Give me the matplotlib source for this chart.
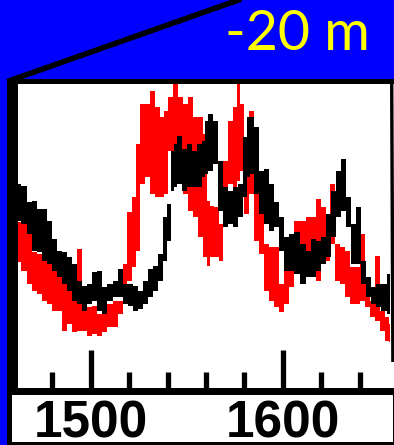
import matplotlib
matplotlib.use("Agg")
import matplotlib.pyplot as plt
import matplotlib.transforms as mtransforms
from matplotlib.patches import Rectangle, Polygon
from matplotlib.lines import Line2D
from matplotlib.ticker import MultipleLocator

# ---------------------------------------------------------------- data
# black record: year, upper and lower edge of the noisy trace
years_black = [1462.2, 1465.6, 1468.2, 1470.8, 1473.4, 1476.0, 1478.6, 1481.2,
               1483.8, 1486.4, 1489.0, 1491.7, 1494.3, 1496.9, 1499.5, 1502.1,
               1504.7, 1507.3, 1509.9, 1513.0, 1515.6, 1518.2, 1520.8, 1523.4,
               1526.0, 1528.6, 1531.2, 1533.8, 1536.4, 1539.0, 1540.8, 1542.5,
               1544.3, 1546.0, 1548.6, 1551.2, 1553.8, 1556.4, 1559.0, 1560.4,
               1562.1, 1564.7, 1567.3, 1569.9, 1572.6, 1575.2, 1577.8, 1580.4,
               1582.1, 1583.8, 1586.4, 1589.0, 1591.7, 1594.3, 1596.9, 1599.5,
               1602.1, 1604.7, 1607.3, 1610.9, 1613.5, 1616.1, 1618.7, 1621.3,
               1623.9, 1626.5, 1629.1, 1631.7, 1634.3, 1636.9, 1639.6, 1642.2,
               1644.8, 1647.4, 1650.0, 1652.6, 1655.8]
black_hi = [66.7, 66.1, 60.6, 60.9, 58.3, 58.3, 54.4, 48.3,
            44.4, 43.9, 42.2, 40.0, 34.4, 32.8, 33.3, 37.2,
            37.8, 32.2, 33.3, 34.4, 38.3, 33.3, 33.3, 32.8,
            31.1, 34.4, 38.3, 39.4, 43.3, 55.6, 60.0, 77.8,
            80.0, 82.8, 78.3, 80.0, 77.8, 80.0, 81.1, 87.8,
            90.0, 87.8, 74.4, 65.6, 64.4, 65.6, 66.7, 82.2,
            88.9, 88.9, 85.6, 71.1, 71.7, 66.7, 60.6, 55.6,
            48.9, 50.0, 50.6, 46.7, 44.4, 48.3, 47.8, 48.9,
            56.7, 64.4, 71.1, 75.0, 62.2, 53.3, 58.9, 41.1,
            35.6, 32.2, 33.3, 33.3, 36.7]
black_lo = [54.4, 53.3, 50.0, 44.4, 43.9, 41.1, 40.0, 37.8,
            35.6, 33.3, 31.1, 27.8, 26.7, 24.4, 26.7, 27.8,
            24.4, 23.3, 27.8, 28.9, 28.9, 26.7, 26.1, 24.4,
            25.0, 26.7, 28.9, 31.1, 34.4, 41.1, 47.8, 64.4,
            65.6, 66.7, 64.4, 65.6, 65.6, 65.6, 68.9, 70.0,
            71.1, 73.3, 57.8, 52.2, 53.3, 52.2, 55.6, 62.2,
            68.9, 70.0, 63.3, 56.7, 53.3, 51.1, 52.2, 44.4,
            37.8, 37.8, 36.7, 33.3, 35.6, 35.6, 37.8, 40.0,
            42.2, 48.9, 55.6, 57.8, 52.2, 40.0, 40.0, 33.3,
            28.9, 26.7, 25.6, 24.4, 23.3]

# red record: year, upper and lower edge of the noisy trace
years_red = [1462.2, 1465.6, 1468.2, 1470.8, 1473.4, 1476.0, 1478.6, 1481.2,
             1483.8, 1486.4, 1489.0, 1491.7, 1494.3, 1496.9, 1499.5, 1502.1,
             1504.7, 1507.3, 1509.9, 1513.0, 1515.6, 1518.2, 1519.9, 1522.6,
             1524.3, 1526.9, 1529.5, 1532.1, 1534.7, 1537.3, 1539.0, 1541.7,
             1544.3, 1546.9, 1549.5, 1552.1, 1554.7, 1557.3, 1559.9, 1561.6,
             1563.0, 1565.6, 1568.2, 1569.9, 1572.6, 1575.2, 1576.9, 1578.6,
             1581.2, 1583.8, 1586.4, 1589.0, 1591.7, 1594.3, 1596.9, 1599.5,
             1602.1, 1604.7, 1607.3, 1610.9, 1613.5, 1616.1, 1618.7, 1621.3,
             1623.9, 1625.7, 1628.3, 1630.9, 1633.5, 1636.1, 1638.7, 1641.3,
             1643.9, 1646.5, 1649.1, 1651.7, 1654.3, 1655.8]
red_hi = [53.9, 53.3, 50.0, 43.9, 43.3, 42.2, 40.0, 37.8,
          35.6, 34.4, 31.1, 27.8, 45.0, 26.7, 25.6, 26.1,
          23.3, 23.3, 26.7, 27.8, 27.8, 40.0, 57.2, 62.2,
          80.0, 93.3, 93.3, 97.8, 92.2, 88.9, 91.1, 95.6,
          100.0, 95.6, 93.3, 95.6, 88.9, 88.9, 83.3, 61.1,
          59.4, 58.9, 53.3, 74.4, 87.8, 92.2, 100.0, 93.3,
          72.2, 91.1, 85.6, 60.0, 46.7, 45.6, 45.6, 33.3,
          37.8, 40.0, 54.4, 54.4, 55.6, 55.6, 61.7, 58.9,
          53.3, 66.7, 46.7, 45.6, 44.4, 38.9, 38.9, 50.0,
          33.3, 27.8, 42.8, 24.4, 22.2, 20.0]
red_lo = [40.6, 37.8, 33.3, 31.1, 30.0, 27.8, 26.7, 24.4,
          24.4, 17.8, 20.0, 17.2, 17.8, 17.8, 16.1, 16.7,
          16.1, 17.2, 18.9, 18.9, 23.3, 33.3, 34.4, 38.9,
          44.4, 66.7, 68.9, 63.3, 62.2, 62.2, 63.3, 77.8,
          77.8, 77.8, 63.3, 57.8, 55.6, 48.9, 42.2, 39.4,
          42.2, 42.2, 41.1, 64.4, 66.7, 65.6, 67.8, 71.1,
          56.7, 63.3, 47.8, 43.3, 31.1, 27.8, 25.6, 23.9,
          26.7, 32.2, 37.8, 42.2, 37.8, 36.7, 34.4, 40.0,
          41.1, 46.7, 34.4, 33.3, 28.9, 26.7, 26.7, 27.8,
          25.6, 22.2, 21.1, 17.8, 14.4, 13.9]

major_years = [1500, 1600]
major_labels = ["1500", "1600"]
depth_label = "-20 m"

# ---------------------------------------------------------------- figure
W, H, DPI = 394, 445, 100
BLUE = "#0000ff"
fig = plt.figure(figsize=(W / DPI, H / DPI), dpi=DPI, facecolor=BLUE)


def fx(px):
    return px / W


def fy(py):
    return 1 - py / H


def box(x0, y0, x1, y1, color, z):
    fig.patches.append(Rectangle((fx(x0), fy(y1)), fx(x1) - fx(x0),
                                 fy(y0) - fy(y1), transform=fig.transFigure,
                                 facecolor=color, edgecolor="none", zorder=z))


# black frame with white plot panel and white label strip
box(7, 79, 394, 445, "black", -3)
box(18, 84, 394, 388, "white", -2)
box(12, 395, 393, 442, "white", -2)

# slanted connector bar on the right edge
fig.patches.append(Polygon([(fx(390), fy(79)), (fx(393.4), fy(79)),
                            (fx(394.6), fy(362)), (fx(391.2), fy(362))],
                           closed=True, transform=fig.transFigure,
                           facecolor="black", edgecolor="none", zorder=4))

# diagonal connector line at the top-left
fig.lines.append(Line2D([fx(7.3), fx(245)], [fy(81.5), fy(-2.3)],
                        transform=fig.transFigure, color="black",
                        linewidth=4.0, solid_capstyle="butt", zorder=5))

# ---------------------------------------------------------------- axes
x_left, x_right = 1462.1, 1655.8
ax = fig.add_axes([fx(18), fy(388), fx(390) - fx(18), fy(84) - fy(388)])
ax.set_facecolor("none")
ax.set_xlim(x_left, x_right)
ax.set_ylim(-1.33, 100)

ax.fill_between(years_red, red_lo, red_hi, step="mid", color="#ff0000",
                linewidth=0, antialiased=False, zorder=2)
ax.fill_between(years_black, black_lo, black_hi, step="mid", color="black",
                linewidth=0, antialiased=False, zorder=3)

for s in ax.spines.values():
    s.set_visible(False)
ax.xaxis.set_major_locator(MultipleLocator(100))
ax.xaxis.set_minor_locator(MultipleLocator(20))
ax.tick_params(axis="x", which="both", direction="in", color="black",
               width=3.8, labelbottom=False, bottom=True, top=False)
ax.tick_params(axis="x", which="major", length=27.4)
ax.tick_params(axis="x", which="minor", length=11.5)
ax.tick_params(axis="y", left=False, labelleft=False)

lab_tr = mtransforms.blended_transform_factory(ax.transData, fig.transFigure)
for yr, lab in zip(major_years, major_labels):
    ax.text(yr, fy(437), lab, transform=lab_tr, ha="center", va="baseline",
            fontsize=37, fontweight="bold", family="Liberation Sans",
            color="black", clip_on=False)

fig.text(fx(225), fy(50), depth_label, color="#ffff00", fontsize=40,
         family="Lato", ha="left", va="baseline")

fig.savefig("out.png", dpi=DPI, facecolor=BLUE)
